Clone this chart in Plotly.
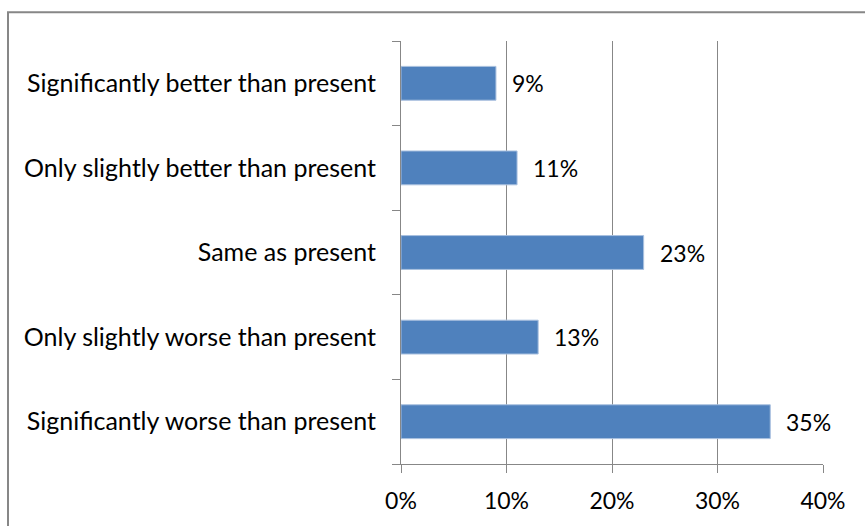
import plotly.graph_objects as go

# Survey responses, listed bottom-to-top as drawn on the category axis
categories = [
    "Significantly worse than present",
    "Only slightly worse than present",
    "Same as present",
    "Only slightly better than present",
    "Significantly better than present",
]
shares = [0.35, 0.13, 0.23, 0.11, 0.09]
x_ticks = [0, 0.1, 0.2, 0.3, 0.4]
x_tick_labels = ["0%", "10%", "20%", "30%", "40%"]

W, H = 865, 526
L, R, T, B = 401, 42, 41, 60
plot_w = W - L - R
plot_h = H - T - B

GRID = "#878787"
FAMILY = "Lato, Carlito, Calibri, sans-serif"
CAT_FONT = dict(family=FAMILY, size=25, color="#000000")
NUM_FONT = dict(family=FAMILY, size=23, color="#000000")

fig = go.Figure()
fig.add_trace(go.Bar(
    x=shares,
    y=categories,
    orientation="h",
    width=0.4,
    marker=dict(color="#4F81BD", line=dict(color="#A9C0DF", width=1)),
    hoverinfo="skip",
))

# Value labels just past each bar's end
for cat, val in zip(categories, shares):
    fig.add_annotation(
        x=val, y=cat, xref="x", yref="y",
        text=f"{round(val * 100)}%",
        showarrow=False, xanchor="left", yanchor="middle",
        xshift=14, font=NUM_FONT,
    )

# Chart-area frame
def px_to_paper_x(px):
    return (px - L) / plot_w

def px_to_paper_y(py):
    return (H - B - py) / plot_h

fig.add_shape(
    type="rect", xref="paper", yref="paper",
    x0=px_to_paper_x(8), x1=px_to_paper_x(W + 10),
    y0=px_to_paper_y(H + 10), y1=px_to_paper_y(12),
    line=dict(color=GRID, width=2), fillcolor="rgba(0,0,0,0)", layer="below",
)

fig.update_layout(
    width=W, height=H,
    margin=dict(l=L, r=R, t=T, b=B),
    paper_bgcolor="white", plot_bgcolor="white",
    showlegend=False,
    font=NUM_FONT,
    bargap=0.6,
)
fig.update_xaxes(
    range=[0, 0.4],
    tickvals=x_ticks, ticktext=x_tick_labels,
    showgrid=True, gridcolor=GRID, gridwidth=1,
    showline=True, linecolor=GRID, linewidth=1,
    ticks="outside", ticklen=8, tickcolor=GRID, tickwidth=1,
    zeroline=False, tickfont=NUM_FONT, ticklabelstandoff=8,
)
fig.update_yaxes(
    type="category", categoryorder="array", categoryarray=categories,
    range=[-0.5, len(categories) - 0.5],
    tickson="boundaries",
    showgrid=False,
    showline=True, linecolor=GRID, linewidth=1,
    ticks="outside", ticklen=8, tickcolor=GRID, tickwidth=1,
    tickfont=CAT_FONT, ticklabelstandoff=19,
)

fig.write_html("out.html")
